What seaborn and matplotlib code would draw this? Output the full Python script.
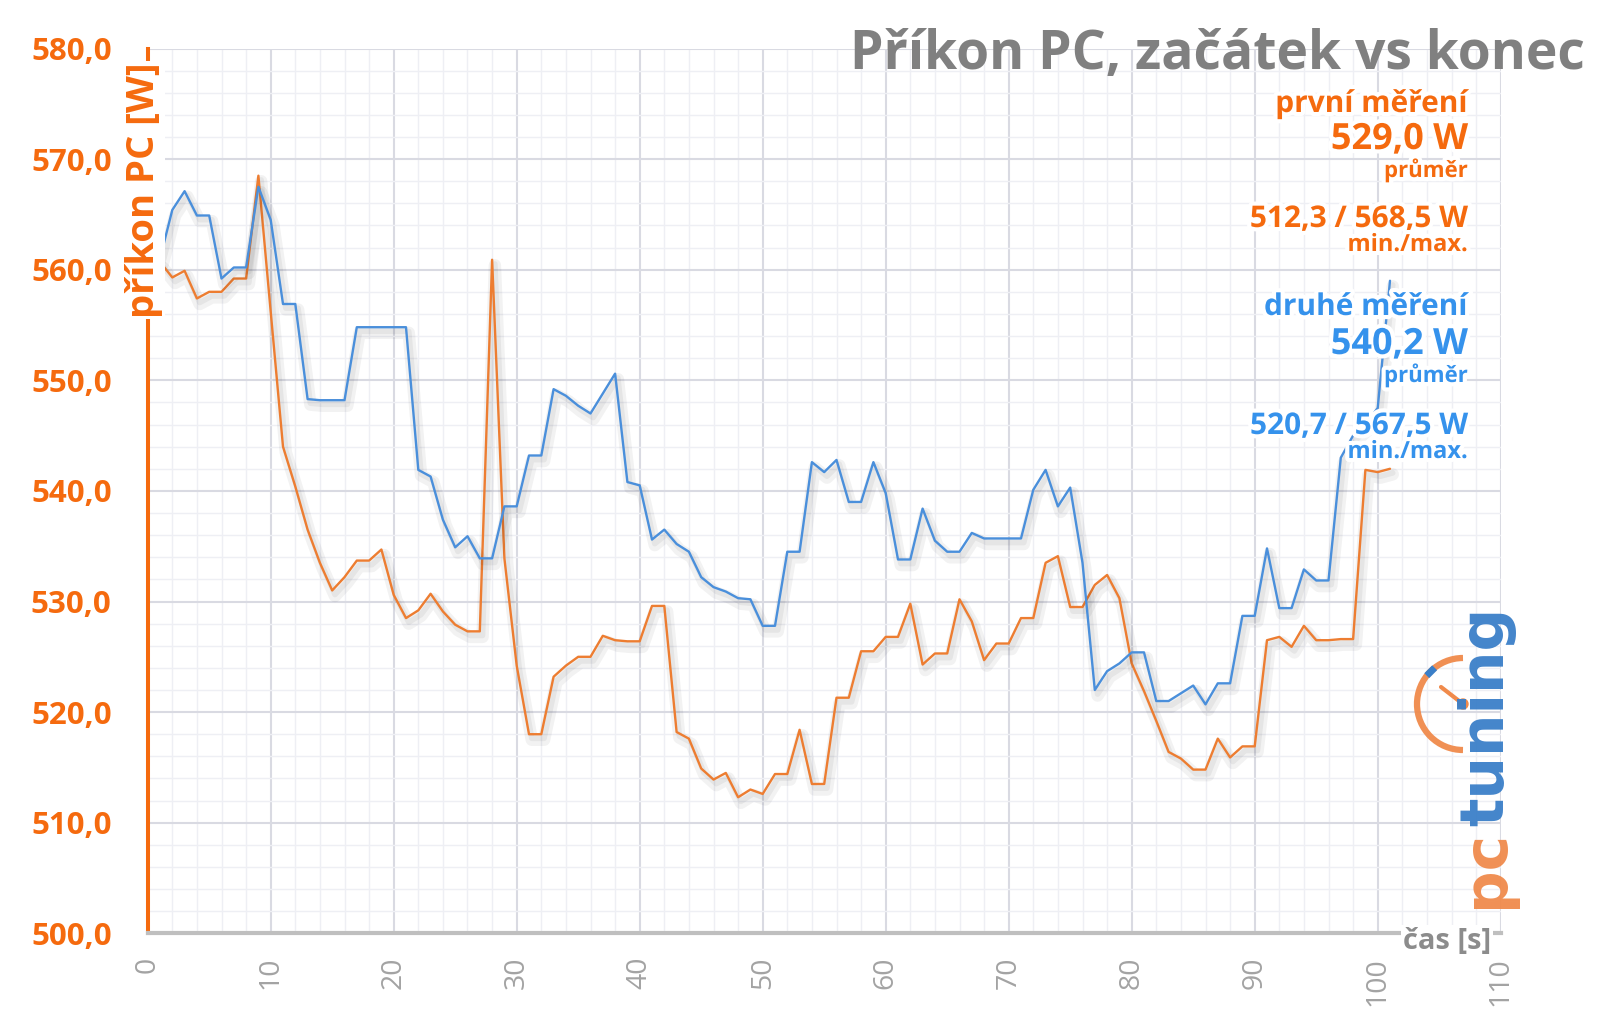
import numpy as np
import pandas as pd
import matplotlib
matplotlib.use("Agg")
import matplotlib.pyplot as plt
import seaborn as sns
from matplotlib.ticker import MultipleLocator
from matplotlib.patches import Arc, Circle
import matplotlib.patheffects as pe

# ---------------- data ----------------
time_s = list(range(1, 102))

first_run = [
    560.7, 559.3, 559.9, 557.4, 558.0, 558.0, 559.2, 559.2, 568.5, 556.2,
    544.0, 540.4, 536.5, 533.5, 531.0, 532.2, 533.7, 533.7, 534.7, 530.6,
    528.5, 529.2, 530.7, 529.1, 527.9, 527.3, 527.3, 560.9, 533.9, 524.2,
    518.0, 518.0, 523.2, 524.2, 525.0, 525.0, 526.9, 526.5, 526.4, 526.4,
    529.6, 529.6, 518.2, 517.6, 514.9, 513.9, 514.5, 512.3, 513.0, 512.6,
    514.4, 514.4, 518.4, 513.5, 513.5, 521.3, 521.3, 525.5, 525.5, 526.8,
    526.8, 529.8, 524.3, 525.3, 525.3, 530.2, 528.2, 524.7, 526.2, 526.2,
    528.5, 528.5, 533.5, 534.1, 529.5, 529.5, 531.5, 532.4, 530.3, 524.4,
    521.9, 519.2, 516.4, 515.8, 514.8, 514.8, 517.6, 515.9, 516.9, 516.9,
    526.5, 526.8, 525.9, 527.8, 526.5, 526.5, 526.6, 526.6, 541.9, 541.7,
    542.0,
]

second_run = [
    561.0, 565.4, 567.1, 564.9, 564.9, 559.2, 560.2, 560.2, 567.5, 564.5,
    556.9, 556.9, 548.3, 548.2, 548.2, 548.2, 554.8, 554.8, 554.8, 554.8,
    554.8, 541.9, 541.3, 537.4, 534.9, 535.9, 533.9, 533.9, 538.6, 538.6,
    543.2, 543.2, 549.2, 548.6, 547.7, 547.0, 548.8, 550.6, 540.8, 540.5,
    535.6, 536.5, 535.2, 534.5, 532.2, 531.3, 530.9, 530.3, 530.2, 527.8,
    527.8, 534.5, 534.5, 542.6, 541.7, 542.8, 539.0, 539.0, 542.6, 539.8,
    533.8, 533.8, 538.4, 535.5, 534.5, 534.5, 536.2, 535.7, 535.7, 535.7,
    535.7, 540.1, 541.9, 538.6, 540.3, 533.5, 522.0, 523.7, 524.4, 525.4,
    525.4, 521.0, 521.0, 521.7, 522.4, 520.7, 522.6, 522.6, 528.7, 528.7,
    534.8, 529.4, 529.4, 532.9, 531.9, 531.9, 543.0, 545.0, 546.0, 547.5,
    559.0,
]

series_names = ["první měření", "druhé měření"]
x_ticks = list(range(0, 111, 10))
y_ticks = list(range(500, 581, 10))
y_tick_labels = [f"{v},0" for v in y_ticks]

title_text = "Příkon PC, začátek vs konec"
y_label = "příkon PC [W]"
x_label = "čas [s]"
first_stats = ["první měření", "529,0 W", "průměr", "512,3 / 568,5 W", "min./max."]
second_stats = ["druhé měření", "540,2 W", "průměr", "520,7 / 567,5 W", "min./max."]

# ---------------- style ----------------
ORANGE_TXT = "#F56A0E"
ORANGE_LINE = "#ED7D31"
BLUE_LINE = "#4A8FDB"
BLUE_TXT = "#3592EC"
GREY_TITLE = "#808080"

sns.set_theme(style="white")
plt.rcParams["font.family"] = ["Open Sans", "DejaVu Sans"]

W, H = 1600, 1017
fig = plt.figure(figsize=(16, 10.17), dpi=100)
fig.patch.set_facecolor("white")

x0, x1 = 147.7, 1500.7
y0, y1 = 933.3, 48.5
ax = fig.add_axes([x0 / W, 1 - y0 / H, (x1 - x0) / W, (y0 - y1) / H])

df = pd.DataFrame({
    "čas": time_s * 2,
    "příkon": first_run + second_run,
    "měření": [series_names[0]] * len(time_s) + [series_names[1]] * len(time_s),
})

sns.lineplot(data=df, x="čas", y="příkon", hue="měření", hue_order=series_names,
             palette=[ORANGE_LINE, BLUE_LINE], linewidth=1.7, legend=False,
             estimator=None, sort=False, ax=ax)

for ln in ax.lines:
    ln.set_path_effects([
        pe.SimpleLineShadow(offset=(2, -4), shadow_color="black", alpha=0.05, linewidth=9),
        pe.SimpleLineShadow(offset=(2, -3), shadow_color="black", alpha=0.05, linewidth=4),
        pe.Normal(),
    ])

ax.set_xlim(0, 110)
ax.set_ylim(500, 580)
ax.set_xlabel("")
ax.set_ylabel("")

ax.set_xticks(x_ticks)
ax.set_xticklabels([str(v) for v in x_ticks], rotation=90)
ax.xaxis.set_minor_locator(MultipleLocator(2))
ax.set_yticks(y_ticks)
ax.set_yticklabels(y_tick_labels, fontweight="bold")
ax.yaxis.set_minor_locator(MultipleLocator(2))

ax.grid(which="major", color="#D9DAE2", linewidth=1.5)
ax.grid(which="minor", color="#EEEFF4", linewidth=1.0)
ax.set_axisbelow(True)

for s in ["top", "right"]:
    ax.spines[s].set_visible(False)
ax.spines["left"].set_color(ORANGE_TXT)
ax.spines["left"].set_linewidth(2.9)
ax.spines["left"].set_zorder(3)
ax.spines["bottom"].set_color("#BFBFBF")
ax.spines["bottom"].set_linewidth(3.0)
ax.spines["bottom"].set_zorder(3)

ax.tick_params(axis="y", which="major", direction="inout", length=18, width=2.5,
               color=ORANGE_TXT, labelcolor=ORANGE_TXT, labelsize=22.5, pad=17)
ax.tick_params(axis="y", which="minor", direction="out", length=7, width=2.2,
               color=ORANGE_TXT)
ax.tick_params(axis="x", which="major", direction="out", length=8, width=2.4,
               color="#BFBFBF", labelcolor="#A3A3A3", labelsize=20.5, pad=9)
ax.tick_params(axis="x", which="minor", length=0)

# ---------------- overlay (pixel coordinates) ----------------
ov = fig.add_axes([0, 0, 1, 1], zorder=10)
ov.set_xlim(0, W)
ov.set_ylim(H, 0)
ov.axis("off")
ov.patch.set_alpha(0)

halo = [pe.withStroke(linewidth=6, foreground="white")]

ov.text(1585, 69, title_text, ha="right", va="baseline", color=GREY_TITLE,
        fontsize=38.5, fontweight="bold")

ov.text(144, 190, y_label, rotation=90, ha="center", va="center", color=ORANGE_TXT,
        fontsize=27.5, fontweight="bold",
        bbox=dict(facecolor="white", edgecolor="none", pad=1))

ov.text(1447, 941, x_label, ha="center", va="center", color="#8C8C8C",
        fontsize=21, fontweight="bold",
        bbox=dict(facecolor="white", edgecolor="none", pad=1))

def stats_block(lines, color, baselines):
    sizes = [21.5, 26, 16, 21.5, 17]
    for txt, b, s in zip(lines, baselines, sizes):
        ov.text(1468, b, txt, ha="right", va="baseline", color=color,
                fontsize=s, fontweight="bold", path_effects=halo)

stats_block(first_stats, ORANGE_TXT, [112, 149, 177, 227, 251])
stats_block(second_stats, BLUE_TXT, [315, 354, 382, 434, 458])

# logo
LOGO_OR = "#F08A4B"
LOGO_BL = "#3A7FC8"
ov.text(1503, 908, "pc", rotation=90, rotation_mode="anchor", ha="left",
        va="baseline", color=LOGO_OR, fontsize=43, fontweight="bold",
        family="DejaVu Sans", alpha=0.95)
ov.text(1503, 826, "tuning", rotation=90, rotation_mode="anchor", ha="left",
        va="baseline", color=LOGO_BL, fontsize=43, fontweight="bold",
        family="DejaVu Sans", alpha=0.95)
cx, cy, r = 1463, 704, 46
ov.add_patch(Arc((cx, cy), 2 * r, 2 * r, theta1=90, theta2=270,
                 color=LOGO_OR, lw=4.5, alpha=0.95))
a1, a2 = np.deg2rad(128), np.deg2rad(142)
ov.plot([cx + r * np.cos(a1), cx + r * np.cos(a2)],
        [cy - r * np.sin(a1), cy - r * np.sin(a2)], color=LOGO_BL, lw=5,
        solid_capstyle="butt")
ov.plot([cx, cx - 22], [cy, cy - 17], color=LOGO_OR, lw=3)
ov.add_patch(Circle((cx, cy), 5, color=LOGO_OR))

fig.savefig("out.png", dpi=100, facecolor="white")
